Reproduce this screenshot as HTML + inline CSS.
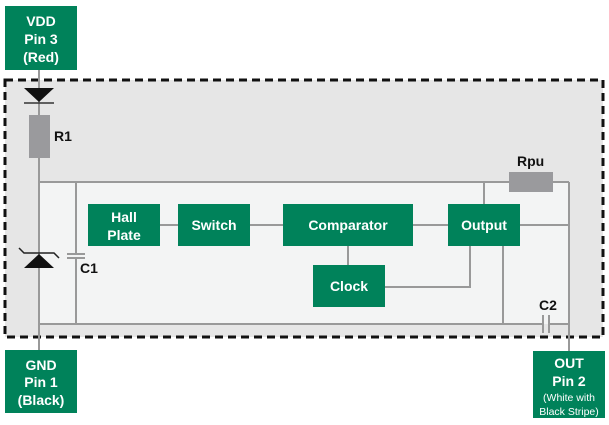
<!DOCTYPE html>
<html><head><style>body{margin:0;background:#fff}svg{display:block}text{font-family:"Liberation Sans",sans-serif;font-weight:bold}text.n{font-weight:normal}</style></head><body>
<svg width="609" height="425" viewBox="0 0 609 425">
<rect x="5" y="80" width="598" height="257" fill="#e6e6e6" stroke="#111" stroke-width="3" stroke-dasharray="8,5"/>
<rect x="39" y="182" width="530" height="142" fill="#f3f4f4"/>
<g stroke="#999" stroke-width="2" fill="none">
<line x1="39" y1="70" x2="39" y2="350"/>
<line x1="39" y1="182" x2="509" y2="182"/><line x1="553" y1="182" x2="569" y2="182"/>
<line x1="569" y1="182" x2="569" y2="351"/>
<line x1="39" y1="324" x2="543" y2="324"/><line x1="549" y1="324" x2="569" y2="324"/>
<line x1="76" y1="182" x2="76" y2="254"/><line x1="76" y1="258" x2="76" y2="324"/>
<line x1="67" y1="254" x2="85" y2="254"/><line x1="67" y1="258" x2="85" y2="258"/>
<line x1="543" y1="315" x2="543" y2="333"/><line x1="549" y1="315" x2="549" y2="333"/>
<line x1="160" y1="225" x2="178" y2="225"/><line x1="250" y1="225" x2="283" y2="225"/>
<line x1="413" y1="225" x2="448" y2="225"/><line x1="520" y1="225" x2="569" y2="225"/>
<line x1="484" y1="182" x2="484" y2="204"/><line x1="503" y1="246" x2="503" y2="324"/>
<polyline points="470,246 470,287 385,287"/><line x1="348" y1="246" x2="348" y2="265"/>
</g>
<polygon points="24,88 54,88 39,102" fill="#111"/><line x1="24" y1="103" x2="54" y2="103" stroke="#333" stroke-width="1.5"/>
<polygon points="24,268 54,268 39,254" fill="#111"/><polyline points="19,248 24,253 54,253 59,258" fill="none" stroke="#222" stroke-width="1.5"/>
<rect x="29" y="115" width="21" height="43" fill="#9a9a9d"/>
<rect x="509" y="172" width="44" height="20" fill="#9a9a9d"/>
<g fill="#00825a">
<rect x="5" y="6" width="72" height="64"/><rect x="5" y="350" width="72" height="63"/><rect x="533" y="351" width="72" height="67"/>
<rect x="88" y="204" width="72" height="42"/><rect x="178" y="204" width="72" height="42"/><rect x="283" y="204" width="130" height="42"/>
<rect x="448" y="204" width="72" height="42"/><rect x="313" y="265" width="72" height="42"/>
</g>
<g fill="#fff" text-anchor="middle" font-size="14">
<text x="41" y="26">VDD</text><text x="41" y="44">Pin 3</text><text x="41" y="62">(Red)</text>
<text x="41" y="370">GND</text><text x="41" y="387">Pin 1</text><text x="41" y="405">(Black)</text>
<text x="569" y="368">OUT</text><text x="569" y="386">Pin 2</text>
<text class="n" x="569" y="401" font-size="10.5">(White with</text><text class="n" x="569" y="415" font-size="10.5">Black Stripe)</text>
<text x="124" y="222">Hall</text><text x="124" y="240">Plate</text><text x="214" y="230">Switch</text>
<text x="348" y="230">Comparator</text><text x="484" y="230">Output</text><text x="349" y="291">Clock</text>
</g>
<g fill="#111" font-size="14">
<text x="54" y="141">R1</text><text x="80" y="273">C1</text><text x="517" y="166">Rpu</text><text x="539" y="310">C2</text>
</g>
</svg></body></html>
